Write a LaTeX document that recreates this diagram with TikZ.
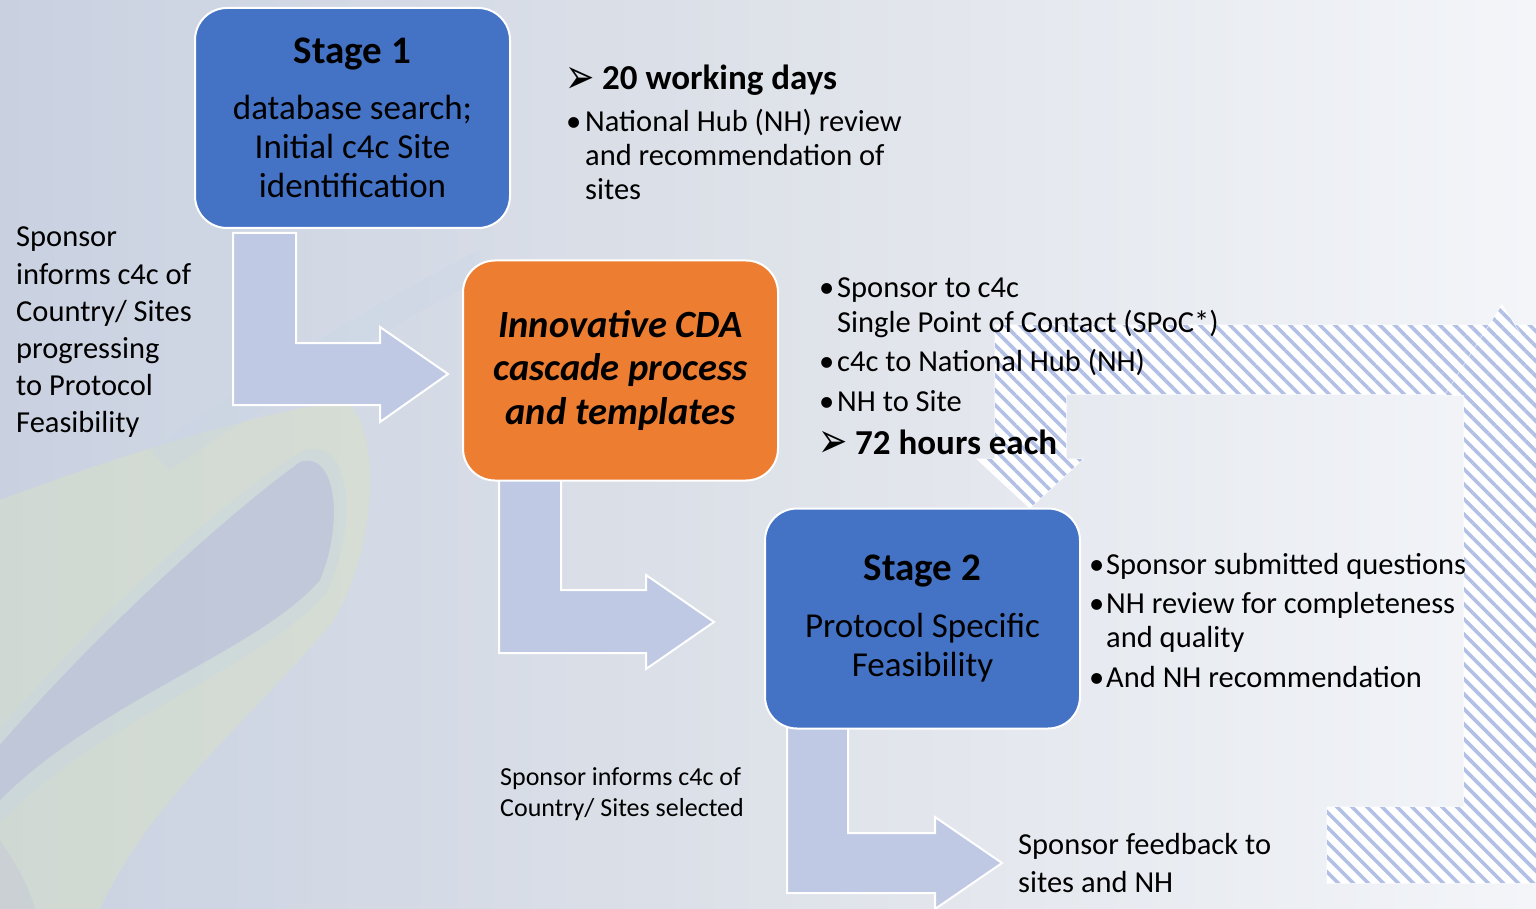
\documentclass[tikz,border=0pt]{standalone}
\usepackage{fontspec}
\usepackage{graphicx}
\setmainfont{Carlito}
\newfontfamily\symfont{DejaVu Sans}
\usetikzlibrary{patterns.meta}
\definecolor{boxblue}{HTML}{4472C4}
\definecolor{boxorange}{HTML}{ED7D31}
\definecolor{arrowfill}{HTML}{BFC9E4}
\definecolor{hatchblue}{HTML}{B3C0E6}
\definecolor{bgleft}{HTML}{C9D1E1}
\definecolor{bgmid}{HTML}{DEE2E9}
\definecolor{bgright}{HTML}{F3F5F9}
\definecolor{wavegreen}{HTML}{D9E2C2}
\definecolor{wavepurple}{HTML}{B2B4D9}
\definecolor{waveblue}{HTML}{C6D6E6}
\newcommand\fsbody{\fontsize{30.5}{37}\selectfont}
\newcommand\fssmall{\fontsize{26}{31}\selectfont}
\newcommand\fshead{\fontsize{35}{40}\selectfont\bfseries}
\newcommand\fsarrow{\symfont\fontsize{35}{38}\selectfont}
\newcommand\headarrow{\scalebox{1}[1.4]{➢}}
\tikzset{
  stagebox/.style={draw=white, line width=2pt, rounded corners=32pt,
    minimum width=315pt, minimum height=220pt, align=center, inner sep=0pt, text=black},
  blockarrow/.style={fill=arrowfill, draw=white, line width=2pt, line join=miter},
  hatchshape/.style={fill=white, draw=white, line width=1pt,
    postaction={pattern={Lines[angle=-45,distance=10.6pt,line width=3.6pt]}, pattern color=hatchblue}},
  txt/.style={anchor=base west, inner sep=0pt, text=black},
  body/.style={txt, font=\fsbody},
}
\begin{document}
\begin{tikzpicture}[x=1pt,y=-1pt]
\useasboundingbox (0,0) rectangle (1536,909);
\clip (0,0) rectangle (1536,909);
% background
\shade[left color=bgleft, right color=bgright, middle color=bgmid] (0,0) rectangle (1536,909);
% waves
\fill[wavegreen, opacity=0.45] (0,500) .. controls (120,455) and (250,415) .. (345,400)
  .. controls (385,430) and (375,560) .. (330,625) .. controls (250,720) and (150,800) .. (100,909)
  -- (0,909) -- cycle;
\fill[waveblue, opacity=0.35] (0,728) .. controls (90,625) and (220,500) .. (305,450)
  .. controls (352,438) and (358,525) .. (327,592) .. controls (265,665) and (100,720) .. (0,822) -- cycle;
\fill[wavepurple, opacity=0.45] (0,745) .. controls (90,640) and (220,520) .. (300,462)
  .. controls (335,450) and (345,520) .. (320,580) .. controls (260,650) and (100,700) .. (0,800) -- cycle;
\fill[wavepurple, opacity=0.2] (0,840) .. controls (20,870) and (30,890) .. (35,909) -- (0,909) -- cycle;
\fill[waveblue, opacity=0.25] (150,450) .. controls (250,380) and (380,300) .. (480,250)
  -- (480,280) .. controls (380,330) and (260,410) .. (170,470) -- cycle;
% hatched return arrows
\path[hatchshape] (1545,325) -- (995,325) -- (995,459) -- (977,459) -- (1030,508)
  -- (1083,459) -- (1066,459) -- (1066,394) -- (1545,394) -- cycle;
\path[hatchshape] (1327,807) -- (1464,807) -- (1464,395) -- (1445,395) -- (1502,305)
  -- (1559,395) -- (1540,395) -- (1540,883) -- (1327,883) -- cycle;
% bent block arrows
\path[blockarrow] (233,233) -- (296,233) -- (296,343) -- (380,343) -- (380,327) -- (448,374)
  -- (380,422) -- (380,405) -- (233,405) -- cycle;
\path[blockarrow] (499,470) -- (561,470) -- (561,590) -- (646,590) -- (646,575) -- (714,622)
  -- (646,669) -- (646,653) -- (499,653) -- cycle;
\path[blockarrow] (787,720) -- (848,720) -- (848,833) -- (935,833) -- (935,817) -- (1002,863)
  -- (935,909) -- (935,893) -- (787,893) -- cycle;
% boxes
\node[stagebox, fill=boxblue, font=\fontsize{35}{39}\selectfont] (s1) at (352.5,118)
  {{\fontsize{39}{47}\selectfont\bfseries Stage 1}\\[17pt]database search;\\Initial c4c Site\\identification};
\node[stagebox, fill=boxorange, font=\fontsize{38.5}{43.5}\selectfont\bfseries\itshape] (cda) at (620.5,370.5)
  {Innovative CDA\\cascade process\\and templates};
\node[stagebox, fill=boxblue, font=\fontsize{35}{39}\selectfont] (s2) at (922.5,618.5)
  {{\fontsize{39}{47}\selectfont\bfseries Stage 2}\\[17.5pt]Protocol Specific\\Feasibility};
% side text
\foreach \t [count=\i] in {Sponsor, informs c4c of, Country/ Sites, progressing, to Protocol, Feasibility}
  \node[body] (side\i) at (16,{247+37*(\i-1)}) {\t};
% 20 working days block
\node[txt, font=\fsarrow] (arA) at (565,94) {\headarrow};
\node[txt, font=\fshead] (days) at (602,90) {20 working days};
\node[body] (bA) at (566,132) {•};
\node[body] (nhA) at (585,132) {National Hub (NH) review};
\node[body] (nhB) at (585,166) {and recommendation of};
\node[body] (nhC) at (585,200) {sites};
% cascade list
\node[body] (bB) at (819,298) {•};
\node[body] (spA) at (837,298) {Sponsor to c4c};
\node[body] (spB) at (837,332) {Single Point of Contact (SPoC*)};
\node[body] (bC) at (819,371) {•};
\node[body] (spC) at (837,371) {c4c to National Hub (NH)};
\node[body] (bD) at (819,411) {•};
\node[body] (spD) at (837,411) {NH to Site};
\node[txt, font=\fsarrow] (arB) at (818,457) {\headarrow};
\node[txt, font=\fshead] (hrs) at (855,454) {72 hours each};
% stage 2 list
\node[body] (bE) at (1089,574) {•};
\node[body] (qA) at (1106,574) {Sponsor submitted questions};
\node[body] (bF) at (1089,613) {•};
\node[body] (qB) at (1106,613) {NH review for completeness};
\node[body] (qC) at (1106,647) {and quality};
\node[body] (bG) at (1089,687) {•};
\node[body] (qD) at (1106,687) {And NH recommendation};
% bottom texts
\node[txt, font=\fssmall] (selA) at (500,785) {Sponsor informs c4c of};
\node[txt, font=\fssmall] (selB) at (500,816) {Country/ Sites selected};
\node[body] (fbA) at (1018,854) {Sponsor feedback to};
\node[body] (fbB) at (1018,892) {sites and NH};
\end{tikzpicture}
\end{document}
